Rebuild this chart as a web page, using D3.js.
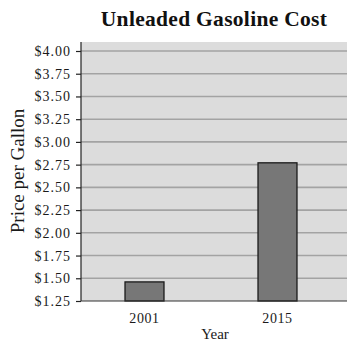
<!DOCTYPE html>
<html><head><meta charset="utf-8">
<script src="https://cdnjs.cloudflare.com/ajax/libs/d3/7.8.5/d3.min.js"></script>
<style>body{margin:0;background:#fff}svg{display:block}</style>
</head><body>
<script>
const years = ["2001", "2015"];
const prices = [1.46, 2.77];
const tickValues = [1.25, 1.5, 1.75, 2.0, 2.25, 2.5, 2.75, 3.0, 3.25, 3.5, 3.75, 4.0];

const W = 347, H = 343;
const svg = d3.select("body").append("svg").attr("width", W).attr("height", H);
const font = "'Liberation Serif','Times New Roman',serif";

const plotL = 81, plotR = 347, plotT = 42, plotB = 301;
const y = d3.scaleLinear().domain([1.25, 4.0]).range([301, 51]);
const x = d3.scaleBand().domain(years).range([78, 344]).paddingInner(0.707).paddingOuter(0.3535);

svg.append("rect").attr("x", plotL).attr("y", plotT).attr("width", plotR - plotL).attr("height", plotB - plotT).attr("fill", "#dcdcdc");

svg.append("g").selectAll("line").data(tickValues.slice(1)).join("line")
  .attr("x1", plotL).attr("x2", plotR).attr("y1", d => y(d)).attr("y2", d => y(d))
  .attr("stroke", "#a3a3a3").attr("stroke-width", 1.6);

svg.append("g").selectAll("rect").data(prices).join("rect")
  .attr("x", (d, i) => x(years[i])).attr("width", x.bandwidth())
  .attr("y", d => y(d)).attr("height", d => y(1.25) - y(d))
  .attr("fill", "#777777").attr("stroke", "#1a1a1a").attr("stroke-width", 1.3);

const yAxis = d3.axisLeft(y).tickValues(tickValues).tickSize(5).tickPadding(5)
  .tickFormat(d => "$" + d3.format(".2f")(d));
const ga = svg.append("g").attr("transform", `translate(${plotL},0)`).call(yAxis);
ga.select(".domain").attr("d", `M0,${plotT}V${plotB}`).attr("stroke", "#222").attr("stroke-width", 1.2);
ga.selectAll(".tick line").attr("stroke", "#222").attr("stroke-width", 1.2);
ga.selectAll("text").attr("font-family", font).attr("font-size", 14).attr("fill", "#1a1a1a").attr("letter-spacing", "1px");

svg.append("line").attr("x1", plotL).attr("x2", plotR).attr("y1", plotB).attr("y2", plotB)
  .attr("stroke", "#333").attr("stroke-width", 1.2);

const xAxis = d3.axisBottom(x).tickSize(0).tickPadding(12);
const gx = svg.append("g").attr("transform", `translate(0,${plotB})`).call(xAxis);
gx.select(".domain").remove();
gx.selectAll("text").attr("font-family", font).attr("font-size", 14).attr("fill", "#1a1a1a").attr("letter-spacing", "0.6px");

svg.append("text").attr("x", 214).attr("y", 26).attr("text-anchor", "middle")
  .attr("font-family", font).attr("font-weight", "bold").attr("font-size", 21.5).attr("fill", "#111")
  .attr("letter-spacing", "0.3px")
  .text("Unleaded Gasoline Cost");

svg.append("text").attr("x", 215).attr("y", 339).attr("text-anchor", "middle")
  .attr("font-family", font).attr("font-size", 15).attr("fill", "#1a1a1a").text("Year");

svg.append("text").attr("transform", "translate(24,171) rotate(-90)").attr("text-anchor", "middle")
  .attr("font-family", font).attr("font-size", 19).attr("fill", "#1a1a1a").text("Price per Gallon");
</script>
</body></html>
